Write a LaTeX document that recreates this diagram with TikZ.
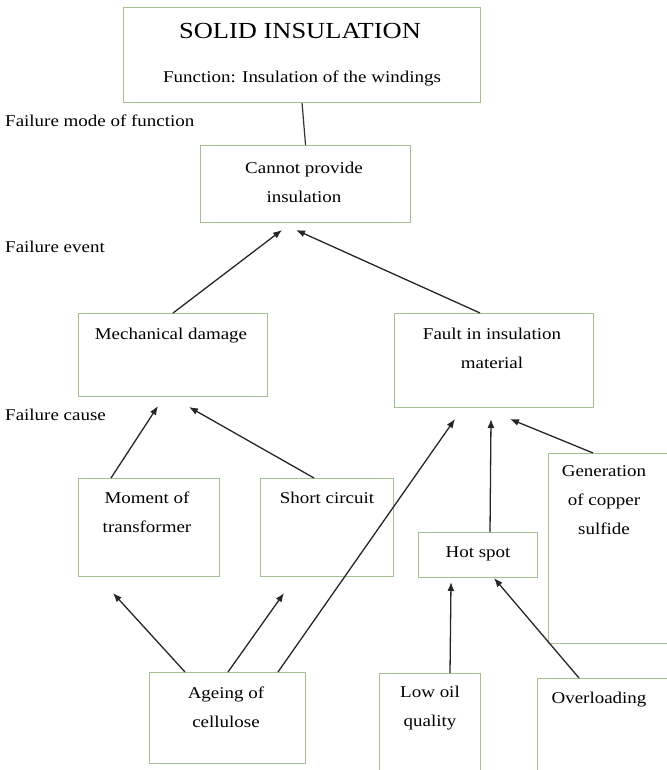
\documentclass[tikz,border=0pt]{standalone}
\usepackage{fontspec}
\setmainfont{Liberation Serif}[FakeStretch=1.15]
\usepackage{xcolor}
\usetikzlibrary{arrows.meta,calc}

\definecolor{boxgreen}{RGB}{165,190,146}

\tikzset{
  box/.style={draw=boxgreen, line width=1.1pt, rectangle, anchor=north west, inner sep=0pt},
  txt/.style={align=center, inner sep=0pt, font=\fontsize{16.5}{29}\selectfont},
  lvl/.style={anchor=west, inner sep=0pt, font=\fontsize{16.5}{20}\selectfont},
  cause/.style={-{Latex[length=9pt,width=7pt]}, line width=1.3pt, draw=black!85},
}

\begin{document}
\begin{tikzpicture}[x=1pt,y=-1pt]
\useasboundingbox (0,0) rectangle (666,770);

% boxes
\node[box, minimum width=357pt, minimum height=95pt] (solid) at (123,7) {};
\node[box, minimum width=210pt, minimum height=77pt] (cannot) at (200,145) {};
\node[box, minimum width=189pt, minimum height=83pt] (mech) at (78,313) {};
\node[box, minimum width=199pt, minimum height=94pt] (fault) at (394,313) {};
\node[box, minimum width=141pt, minimum height=98pt] (moment) at (78,478) {};
\node[box, minimum width=133pt, minimum height=98pt] (short) at (260,478) {};
\node[box, minimum width=140pt, minimum height=190pt] (copper) at (548,453) {};
\node[box, minimum width=119pt, minimum height=45pt] (hot) at (418,532) {};
\node[box, minimum width=156pt, minimum height=91pt] (ageing) at (149,672) {};
\node[box, minimum width=101pt, minimum height=110pt] (lowoil) at (379,673) {};
\node[box, minimum width=140pt, minimum height=100pt] (overload) at (537,678) {};

% texts
\node[txt, font=\fontsize{23}{26}\selectfont] (solid-t) at (300,31) {SOLID INSULATION};
\node[txt] (func-t) at (302,78) {Function: Insulation of the windings};
\node[txt] (cannot-t) at (304,182) {Cannot provide\\insulation};
\node[txt] (mech-t) at (171,336) {Mechanical damage};
\node[txt] (fault-t) at (492,348) {Fault in insulation\\material};
\node[txt] (moment-t) at (147,512) {Moment of\\transformer};
\node[txt] (short-t) at (327,498) {Short circuit};
\node[txt] (copper-t) at (604,500) {Generation\\of copper\\sulfide};
\node[txt] (hot-t) at (478,554) {Hot spot};
\node[txt] (ageing-t) at (226,707) {Ageing of\\cellulose};
\node[txt] (lowoil-t) at (430,708) {Low oil\\quality};
\node[txt] (overload-t) at (599,700) {Overloading};

% levels
\node[lvl] (mode) at (5,121) {Failure mode of function};
\node[lvl] (event) at (5,247) {Failure event};
\node[lvl] (cause) at (5,415) {Failure cause};

% arrow ends
\coordinate (c1) at (282,230);
\coordinate (c2) at (296,230);
\coordinate (m1) at (158,406);
\coordinate (m2) at (189,407);
\coordinate (f1) at (455,419);
\coordinate (f2) at (491,419);
\coordinate (f3) at (510,419);
\coordinate (a1) at (113,593);
\coordinate (a2) at (284,593);
\coordinate (h1) at (451,582);
\coordinate (h2) at (494,578);

% connectors
\draw[line width=1.2pt, black!80] (solid.south) -- (cannot.north);
\draw[cause] (mech.north) -- (c1);
\draw[cause] ($(fault.north west)+(86,0)$) -- (c2);
\draw[cause] ($(moment.north west)+(33,0)$) -- (m1);
\draw[cause] ($(short.north west)+(54,0)$) -- (m2);
\draw[cause] ($(ageing.north west)+(129,0)$) -- (f1);
\draw[cause] ($(hot.north west)+(72,0)$) -- (f2);
\draw[cause] ($(copper.north west)+(45,0)$) -- (f3);
\draw[cause] ($(ageing.north west)+(36,0)$) -- (a1);
\draw[cause] ($(ageing.north west)+(79,0)$) -- (a2);
\draw[cause] ($(lowoil.north west)+(71,0)$) -- (h1);
\draw[cause] ($(overload.north west)+(42,0)$) -- (h2);
\end{tikzpicture}
\end{document}
